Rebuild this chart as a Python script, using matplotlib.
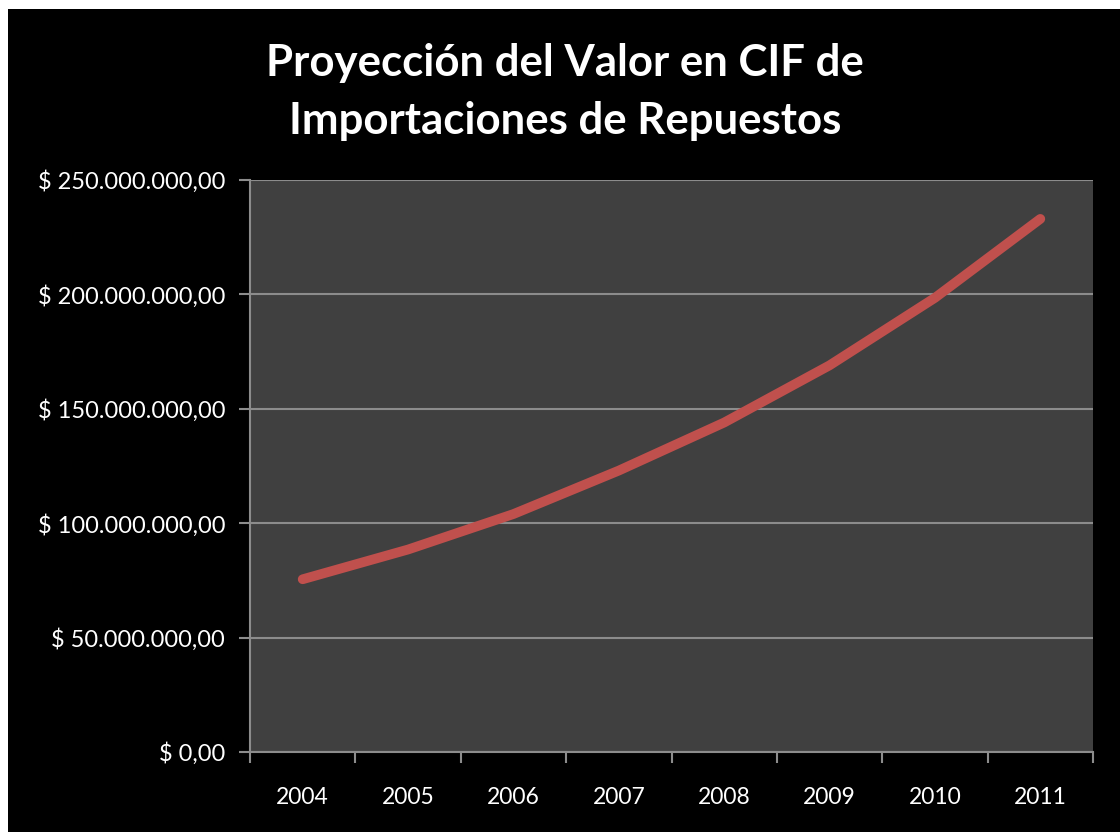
import numpy as np
import matplotlib.pyplot as plt
from matplotlib.patches import Rectangle
from matplotlib.ticker import FuncFormatter, FixedLocator

years  = ["2004", "2005", "2006", "2007", "2008", "2009", "2010", "2011"]
valores = [75.5e6, 88.5e6, 104.0e6, 123.0e6, 144.0e6, 169.0e6, 198.5e6, 233.0e6]
yticks  = [0, 50e6, 100e6, 150e6, 200e6, 250e6]
titulo  = ["Proyección del Valor en CIF de", "Importaciones de Repuestos"]

plt.rcParams["font.family"] = ["Lato", "DejaVu Sans"]

fig = plt.figure(figsize=(11.2, 8.32), dpi=100)
fig.patch.set_facecolor("white")
# fondo negro del grafico (pequeño borde blanco arriba e izquierda)
fig.patches.append(Rectangle((8 / 1120, 0), 1, 1 - 9 / 832, transform=fig.transFigure,
                             facecolor="black", edgecolor="none", zorder=-5))

ax = fig.add_axes([250 / 1120, 1 - 752 / 832, (1093 - 250) / 1120, (752 - 180) / 832])
ax.set_facecolor("#404040")

x = np.arange(len(years))
ax.plot(x, valores, color="#C0504D", linewidth=7, solid_capstyle="round",
        solid_joinstyle="round", zorder=3)

ax.set_xlim(-0.5, len(years) - 0.5)
ax.set_ylim(0, 250e6)
ax.set_yticks(yticks)
ax.yaxis.set_major_formatter(FuncFormatter(
    lambda v, p: "$ " + f"{v:,.2f}".replace(",", "X").replace(".", ",").replace("X", ".")))
ax.grid(axis="y", color="#8c8c8c", linewidth=1.5, zorder=1)

ax.set_xticks(x)
ax.set_xticklabels(years)
ax.xaxis.set_minor_locator(FixedLocator(np.arange(-0.5, len(years), 1)))
ax.tick_params(axis="x", which="major", length=0, pad=25, labelsize=16.5, colors="white")
ax.tick_params(axis="x", which="minor", length=8, width=1.5, color="#8c8c8c")
ax.tick_params(axis="y", length=8, width=1.5, color="#8c8c8c", labelsize=17,
               labelcolor="white", pad=10)

for s in ["top", "right"]:
    ax.spines[s].set_visible(False)
for s in ["left", "bottom"]:
    ax.spines[s].set_color("#8c8c8c")
    ax.spines[s].set_linewidth(1.5)

for i, linea in enumerate(titulo):
    fig.text(565 / 1120, 1 - (63 + 58 * i) / 832, linea, ha="center", va="center",
             color="white", fontsize=31.5, fontweight="bold")

fig.savefig("out.png", dpi=100, facecolor=fig.get_facecolor())
